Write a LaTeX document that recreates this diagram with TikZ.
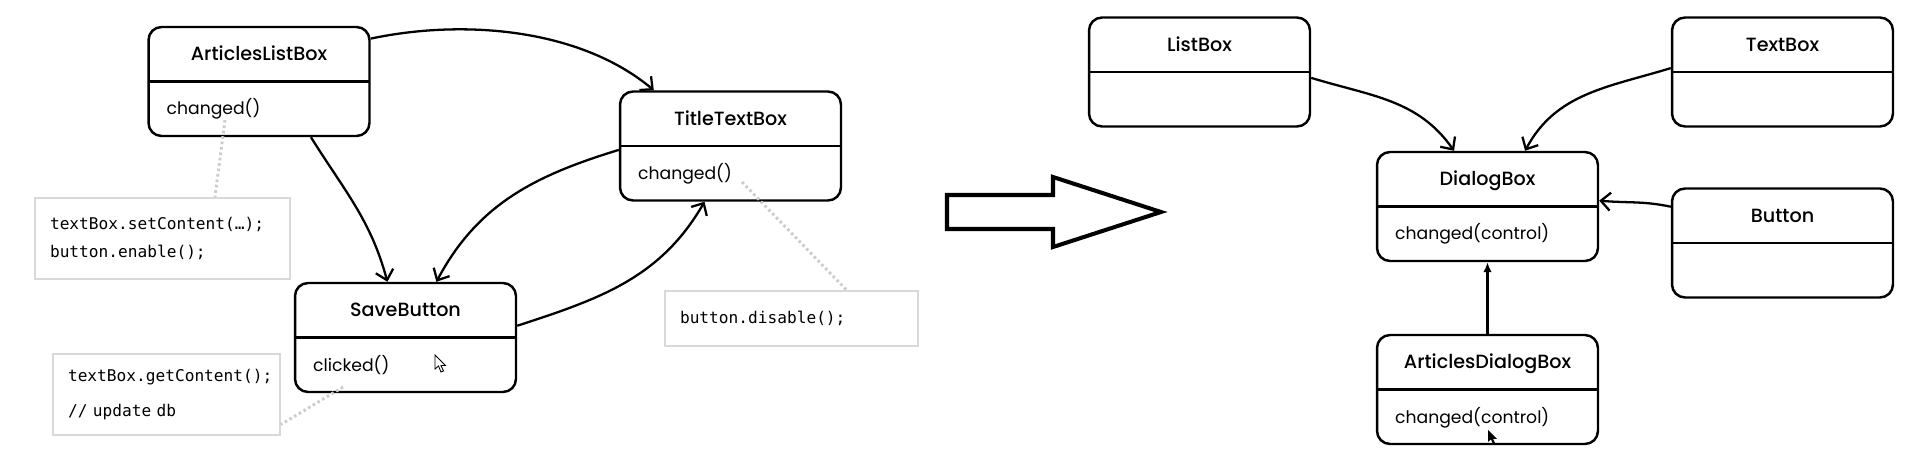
\documentclass[tikz,border=0pt]{standalone}
\usepackage{fontspec}
\setmainfont{Poppins}
\setmonofont{DejaVu Sans Mono}
\newfontfamily\ttlfont{Poppins}[UprightFont={* Medium}]
\usetikzlibrary{arrows.meta}

\definecolor{notegray}{HTML}{D9D9D9}
\definecolor{dotgray}{HTML}{CDCDCD}

\tikzstyle{cls}  = [draw, rectangle, minimum width=4.42cm, minimum height=2.18cm, line width=1.4pt, rounded corners=2.6mm,
                    path picture={\draw[line width=1.4pt] (path picture bounding box.west) -- (path picture bounding box.east);}]
\tikzstyle{ttl}  = [anchor=base, yshift=0.42cm, inner sep=0pt, font=\ttlfont\fontsize{10.9}{12}\selectfont]
\tikzstyle{mth}  = [anchor=base west, xshift=0.38cm, yshift=-0.67cm, inner sep=0pt, font=\fontsize{9.8}{12}\selectfont]
\tikzstyle{note} = [draw=notegray, line width=1.1pt, rectangle, align=left, inner xsep=0.3cm, inner ysep=0pt,
                    font=\ttfamily\fontsize{9.2}{16.5}\selectfont]
\tikzstyle{msg}  = [-{Straight Barb[length=1.9mm,width=3.6mm]}, line width=1.3pt]
\tikzstyle{memo} = [dotgray, line width=1.7pt, dash pattern=on 1.5pt off 1.6pt]

\begin{document}
\begin{tikzpicture}[x=0.02cm, y=0.02cm]
  \useasboundingbox (0,0) rectangle (1914,-467);

  % before: the controls talk to each other
  \node at (259,-81.5)   (alb) [cls] {};
  \node at (alb)         (alb-t) [ttl] {ArticlesListBox};
  \node at (alb.west)    (alb-m) [mth] {changed()};
  \node at (730.5,-146)  (ttb) [cls] {};
  \node at (ttb)         (ttb-t) [ttl] {TitleTextBox};
  \node at (ttb.west)    (ttb-m) [mth] {changed()};
  \node at (405.5,-337.5) (sbt) [cls] {};
  \node at (sbt)         (sbt-t) [ttl] {SaveButton};
  \node at (sbt.west)    (sbt-m) [mth] {clicked()};

  \path[msg] (alb.21)  edge[out=12,in=140,looseness=0.85] (ttb.144)
             (alb.-47) edge[out=-58,in=105] (sbt.108)
             (ttb.182) edge[out=197,in=62] (sbt.61)
             (sbt.6)   edge[out=18,in=240] (ttb.245);

  \node at (162.5,-238.5) (n1) [note, text width=4.5cm, minimum height=1.62cm]
    {textBox.setContent(…);\\button.enable();};
  \node at (166.5,-394.5) (n2) [note, text width=3.94cm, minimum height=1.62cm]
    {textBox.getContent();\\[3pt]// update db};
  \node at (791.5,-318.5) (n3) [note, text width=4.46cm, minimum height=1.1cm]
    {button.disable();};

  \coordinate (c1) at (225,-120);
  \coordinate (c2) at (742,-182);
  \coordinate (c3) at (343,-387);
  \draw[memo] (c1) -- ([xshift=1.05cm]n1.north);
  \draw[memo] (c2) -- ([xshift=1.1cm]n3.north);
  \draw[memo] (c3) -- ([yshift=-0.6cm]n2.east);

  % mouse pointers
  \draw[line width=0.5pt, fill=white, shift={(435,-355)}]
    (0,0) -- (0,-14) -- (3.5,-11) -- (6,-17) -- (8.5,-16) -- (6,-10.5) -- (10.5,-10.5) -- cycle;
  \fill[shift={(1488,-430)}, scale=0.85]
    (0,0) -- (0,-14) -- (3.5,-11) -- (6,-17) -- (8.5,-16) -- (6,-10.5) -- (10.5,-10.5) -- cycle;

  % becomes
  \draw[line width=2.3pt] (947,-195) -- (1053,-195) -- (1053,-177) -- (1161,-212)
    -- (1053,-247) -- (1053,-229) -- (947,-229) -- cycle;

  % after: everything goes through the mediator
  \node at (1199.5,-72)  (lbx) [cls] {};
  \node at (lbx)         (lbx-t) [ttl] {ListBox};
  \node at (1782.5,-72)  (tbx) [cls] {};
  \node at (tbx)         (tbx-t) [ttl] {TextBox};
  \node at (1487.5,-206.5) (dlg) [cls] {};
  \node at (dlg)         (dlg-t) [ttl] {DialogBox};
  \node at (dlg.west)    (dlg-m) [mth] {changed(control)};
  \node at (1782.5,-243) (btn) [cls] {};
  \node at (btn)         (btn-t) [ttl] {Button};
  \node at (1487.5,-389.5) (adb) [cls] {};
  \node at (adb)         (adb-t) [ttl] {ArticlesDialogBox};
  \node at (adb.west)    (adb-m) [mth] {changed(control)};

  \path[msg] (lbx.-3)  edge[out=-17,in=125] (dlg.121)
             (tbx.178) edge[out=197,in=62] (dlg.56)
             (btn.162) edge[out=168,in=-5] (dlg.3);
  \draw[-{Latex[length=2mm,width=1.7mm]}, line width=1.3pt] (adb) -- (dlg);
\end{tikzpicture}
\end{document}
